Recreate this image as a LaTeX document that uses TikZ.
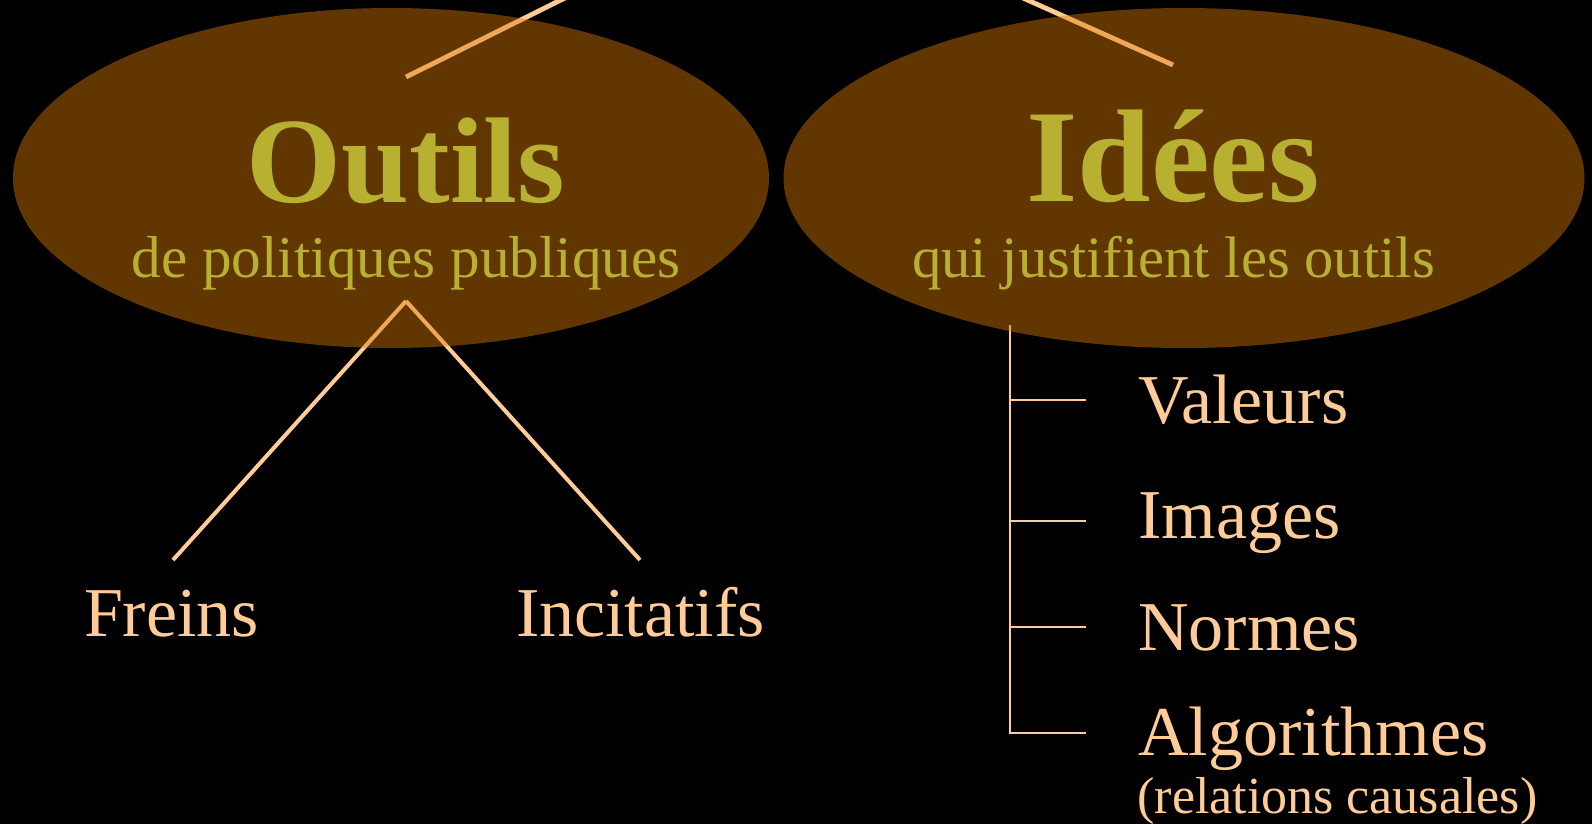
\documentclass[tikz,border=0pt]{standalone}
\usepackage{fontspec}
\setmainfont{Liberation Serif}
\usetikzlibrary{calc,shapes.geometric}
\definecolor{peche}{RGB}{255,204,153}
\definecolor{titreolive}{RGB}{184,176,48}
\definecolor{bulle}{RGB}{225,123,0}
\tikzset{
  bulle/.style={ellipse, fill=bulle, fill opacity=0.44, inner sep=0pt},
  titre/.style={text=titreolive, inner sep=0pt, anchor=base},
  feuille/.style={text=peche, inner sep=0pt, font=\fontsize{35}{40}\selectfont},
  trait/.style={draw=peche, line width=2.4pt},
  branche/.style={draw=peche, line width=1pt}
}

\begin{document}
\begin{tikzpicture}[x=0.5pt, y=-0.5pt]
		%%%%% START %%%%%
		
		\fill[black] (0,0) rectangle (1592,824);
		\useasboundingbox (0,0) rectangle (1592,824);
		
		% feuilles
		\node[feuille, anchor=base] (freins) at (171.5,636) {Freins};
		\node[feuille, anchor=base] (incit) at (640.5,636) {Incitatifs};
		\node[feuille, anchor=base west] (valeurs) at (1138,423) {Valeurs};
		\node[feuille, anchor=base west] (images) at (1138,538) {Images};
		\node[feuille, anchor=base west] (normes) at (1138,650) {Normes};
		\node[feuille, anchor=base west] (algo) at (1138,755) {Algorithmes};
		\node[feuille, anchor=base west, font=\fontsize{26}{30}\selectfont] (causes) at (1137,813) {(relations causales)};
		
		% traits
		\coordinate (hautG) at (581,-10);
		\coordinate (piedG) at (406,77);
		\coordinate (hautD) at (1005,-10);
		\coordinate (piedD) at (1173,65);
		\coordinate (sommet) at (406,301);
		\draw[trait] (hautG) -- (piedG);
		\draw[trait] (hautD) -- (piedD);
		\draw[trait, line width=2pt] (sommet) -- ($(freins.base)+(1.5,-76)$);
		\draw[trait, line width=2pt] (sommet) -- ($(incit.base)+(-0.5,-76)$);
		
		\coordinate (tige) at (1010,325);
		\draw[branche] (tige) |- ($(algo.base west)+(-52,-22)$);
		\foreach \n/\dy in {valeurs/23, images/17, normes/23}
			\draw[branche] ($(\n.base west)+(-52,-\dy)$) -- ++(-76,0);
		
		% bulles
		\node[bulle, minimum width=378pt, minimum height=170pt] (outils) at (391,178) {};
		\node[bulle, minimum width=400.5pt, minimum height=170pt] (idees) at (1184,178) {};
		
		% titres
		\node[titre, font=\fontsize{61}{64}\selectfont\bfseries] (titreO) at (406,203) {Outils};
		\node[titre, font=\fontsize{29.6}{33}\selectfont] (sousO) at (406,278) {de politiques publiques};
		\node[titre, font=\fontsize{66}{70}\selectfont\bfseries] (titreI) at (1173,202) {Idées};
		\node[titre, font=\fontsize{29.3}{33}\selectfont] (sousI) at (1173.5,278) {qui justifient les outils};
		
		%%%%% END %%%%%
\end{tikzpicture}
\end{document}
